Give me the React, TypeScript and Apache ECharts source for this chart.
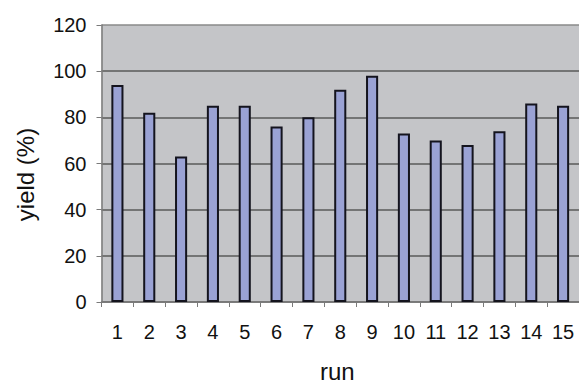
import React, { useEffect, useRef } from "react";
import * as echarts from "echarts";

const runs = ["1", "2", "3", "4", "5", "6", "7", "8", "9", "10", "11", "12", "13", "14", "15"];
const yields = [94, 82, 63, 85, 85, 76, 80, 92, 98, 73, 70, 68, 74, 86, 85];
const yMin = 0;
const yMax = 120;
const yStep = 20;

export default function App() {
  const ref = useRef<HTMLDivElement>(null);
  useEffect(() => {
    document.body.style.margin = "0";
    const chart = echarts.init(ref.current!, null, { renderer: "svg" });
    const font = "Liberation Sans, Arial, sans-serif";
    chart.setOption({
      animation: false,
      backgroundColor: "#ffffff",
      grid: {
        left: 101.5,
        right: -4.5,
        top: 25,
        bottom: 80,
        show: true,
        backgroundColor: "#c4c5c8",
        borderWidth: 0,
      },
      xAxis: {
        type: "category",
        data: runs,
        name: "run",
        nameLocation: "middle",
        nameGap: 57,
        nameTextStyle: { fontSize: 24, color: "#111", fontFamily: font, padding: [0, 6, 0, 0] },
        axisLine: { show: true, lineStyle: { color: "#7a7a7a", width: 1.5 } },
        axisTick: { show: true, alignWithLabel: false, length: 5, lineStyle: { color: "#7a7a7a" } },
        axisLabel: { fontSize: 20, color: "#111", fontFamily: font, margin: 20, interval: 0 },
      },
      yAxis: {
        type: "value",
        min: yMin,
        max: yMax,
        interval: yStep,
        name: "yield (%)",
        nameLocation: "middle",
        nameGap: 64,
        nameTextStyle: { fontSize: 24, color: "#111", fontFamily: font, padding: [0, 22, 0, 0] },
        axisLine: { show: true, lineStyle: { color: "#7a7a7a", width: 1.5 } },
        axisTick: { show: true, length: 5, lineStyle: { color: "#7a7a7a" } },
        axisLabel: { fontSize: 20, color: "#111", fontFamily: font, margin: 15 },
        splitLine: {
          show: true,
          lineStyle: {
            color: ["#5a5a5a", "#5a5a5a", "#5a5a5a", "#5a5a5a", "#5a5a5a", "#5a5a5a", "#8a8a8a"],
            width: 1.5,
          },
        },
      },
      series: [
        {
          type: "bar",
          data: yields,
          barWidth: "38%",
          itemStyle: { color: "#9aa2d4", borderColor: "#14141e", borderWidth: 2 },
        },
      ],
    });
    return () => chart.dispose();
  }, []);
  return <div ref={ref} style={{ width: 579, height: 388 }} />;
}
